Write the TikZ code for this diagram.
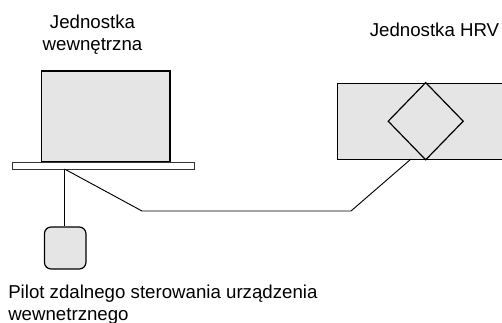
\documentclass[tikz,border=0pt]{standalone}
\usepackage{fontspec}
\setmainfont{Liberation Sans}
\begin{document}
\begin{tikzpicture}[x=0.75pt,y=-0.75pt,
  unitbox/.style={draw=black,line width=0.9pt,fill=boxgray},
  wire/.style={draw=black,line width=0.7pt},
  lbl/.style={font=\fontsize{14}{16}\selectfont,inner sep=0pt}]
\definecolor{boxgray}{HTML}{E5E5E5}
\useasboundingbox (0,0) rectangle (502,322);
% indoor unit
\draw[unitbox] (41.5,71) rectangle (170,162);
\node[draw=black!80,line width=0.7pt,fill=white,minimum width=181.5*0.75pt,minimum height=7*0.75pt,inner sep=0pt] (plate) at (103.25,165.5) {};
% remote
\node[unitbox,rounded corners=5pt,minimum width=41.5*0.75pt,minimum height=42*0.75pt,inner sep=0pt] (remote) at (65.2,248) {};
% HRV unit
\node[unitbox,minimum width=176*0.75pt,minimum height=76*0.75pt,inner sep=0pt] (hrv) at (425.7,121.2) {};
\draw[line width=0.9pt] (hrv.north -| 425.7,0) -- (463.2,121.2) -- (hrv.south -| 425.7,0) -- (388.2,121.2) -- cycle;
% connectors
\coordinate (p0) at (64.5,169);
\coordinate (k1) at (142,211);
\coordinate (k2) at (351,211);
\coordinate (h0) at (411,159);
\draw[wire] (p0) -- (remote.north -| p0);
\draw[wire] (p0) -- (k1) -- (k2) -- (h0);
% labels
\node[lbl,align=center,anchor=north] (tin) at (92.5,15) {Jednostka\\wewnętrzna};
\node[lbl,anchor=north] (thrv) at (434.5,23) {Jednostka HRV};
\node[lbl,align=left,anchor=north west] (trem) at (8,285) {Pilot zdalnego sterowania urządzenia\\wewnetrznego};
\end{tikzpicture}
\end{document}
